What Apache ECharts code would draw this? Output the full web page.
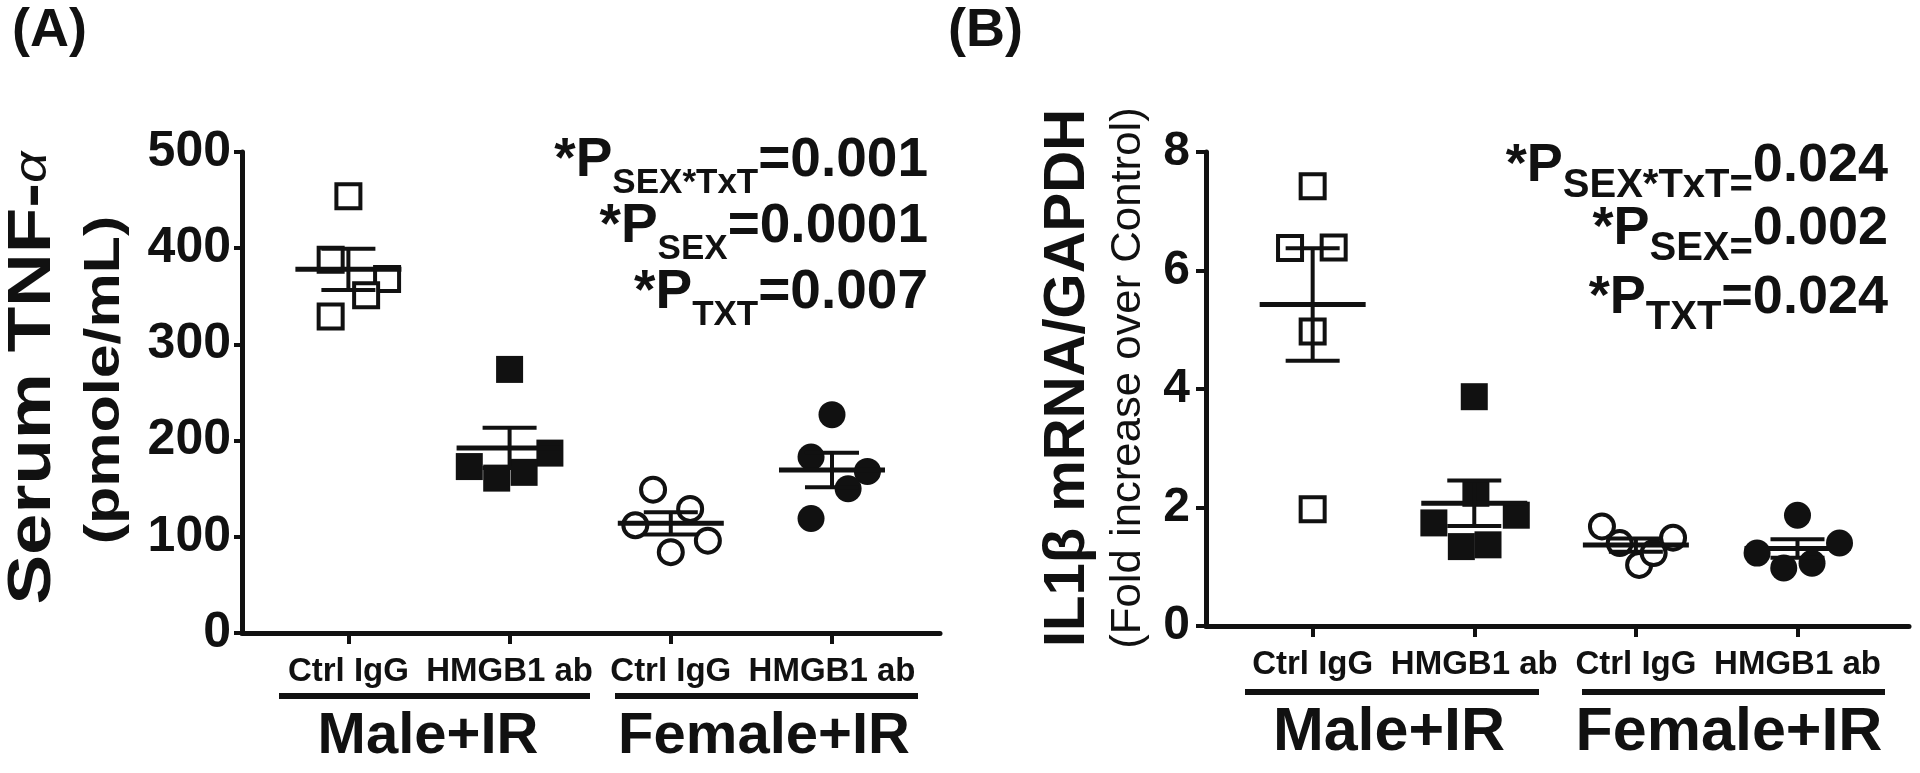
<!DOCTYPE html>
<html>
<head>
<meta charset="utf-8">
<title>TNF-α and IL1β</title>
<script src="https://cdn.jsdelivr.net/npm/echarts@6/dist/echarts.min.js"></script>
<style>
  html, body { margin: 0; padding: 0; background: #fff; }
  #chart { width: 1920px; height: 773px; }
</style>
</head>
<body>
<div id="chart"></div>
<script>
// ---- data ----
const groups = ['Ctrl IgG', 'HMGB1 ab', 'Ctrl IgG', 'HMGB1 ab'];
const sexes = ['Male+IR', 'Female+IR'];
const tnfTicks = [0, 100, 200, 300, 400, 500];
const ilTicks = [0, 2, 4, 6, 8];

// (A) serum TNF-α, pmole/mL
const tnfMaleCtrl = [454, 388, 368, 351, 329];
const tnfMaleAb = [274, 187, 173, 167, 161];
const tnfFemaleCtrl = [149, 129, 112, 96, 84];
const tnfFemaleAb = [227, 183, 168, 150, 119];

// (B) IL1β mRNA/GAPDH, fold increase over control
const ilMaleCtrl = [7.42, 6.38, 6.39, 4.97, 1.97];
const ilMaleAb = [3.87, 2.24, 1.87, 1.74, 1.37, 1.34];
const ilFemaleCtrl = [1.68, 1.40, 1.03, 1.23, 1.49];
const ilFemaleAb = [1.87, 1.23, 1.40, 0.98, 1.06];

// p values: [subscript, value]
const pA = [['SEX*TxT', '0.001'], ['SEX', '0.0001'], ['TXT', '0.007']];
const pB = [['SEX*TxT', '0.024'], ['SEX', '0.002'], ['TXT', '0.024']];

// ---- layout ----
// horizontal spread of dots inside a column (fraction of column width)
const spreadA = [
  [0, -0.11, 0.24, 0.11, -0.11],
  [0, 0.25, -0.25, 0.09, -0.08],
  [-0.11, 0.12, -0.22, 0.23, 0],
  [0, -0.13, 0.22, 0.1, -0.13]
];
const spreadB = [
  [0, -0.14, 0.13, 0, 0],
  [0, 0.01, 0.26, -0.25, 0.085, -0.08],
  [-0.21, -0.1, 0.02, 0.11, 0.23],
  [0, -0.25, 0.26, -0.085, 0.09]
];

const INK = '#111';
const FONT = '"Liberation Sans", Arial, sans-serif';

function meanSem(v) {
  const n = v.length;
  const m = v.reduce((a, b) => a + b, 0) / n;
  const sd = Math.sqrt(v.reduce((a, b) => a + (b - m) * (b - m), 0) / (n - 1));
  return [m, sd / Math.sqrt(n)];
}

function dots(vals, col, spread, axis, symbol, filled) {
  return {
    type: 'scatter',
    xAxisIndex: axis, yAxisIndex: axis,
    symbol: symbol,
    symbolSize: filled ? 27 : 24,
    itemStyle: filled
      ? { color: INK, opacity: 1 }
      : { color: '#fff', borderColor: INK, borderWidth: 4, opacity: 1 },
    data: vals.map((v, i) => [col + spread[i], v]),
    z: 2,
    silent: true
  };
}

function bars(sets, axis) {
  return {
    type: 'custom',
    xAxisIndex: axis, yAxisIndex: axis,
    data: sets.map((v, i) => [i + 1].concat(meanSem(v))),
    z: 3,
    silent: true,
    renderItem: function (params, api) {
      const x = api.value(0), m = api.value(1), s = api.value(2);
      const c = api.coord([x, m]);
      const t = api.coord([x, m + s]);
      const b = api.coord([x, m - s]);
      const ls = { stroke: INK, lineWidth: 4 };
      return {
        type: 'group',
        children: [
          { type: 'line', shape: { x1: c[0] - 53, y1: c[1], x2: c[0] + 53, y2: c[1] }, style: { stroke: INK, lineWidth: 5 } },
          { type: 'line', shape: { x1: c[0], y1: t[1], x2: c[0], y2: b[1] }, style: ls },
          { type: 'line', shape: { x1: c[0] - 27, y1: t[1], x2: c[0] + 27, y2: t[1] }, style: ls },
          { type: 'line', shape: { x1: c[0] - 27, y1: b[1], x2: c[0] + 27, y2: b[1] }, style: ls }
        ]
      };
    }
  };
}

function xAxis(grid, max) {
  return {
    type: 'value', gridIndex: grid, min: 0.34, max: max,
    axisLine: { lineStyle: { color: INK, width: 5 } },
    axisTick: { customValues: [1, 2, 3, 4], length: 11, lineStyle: { color: INK, width: 4 } },
    axisLabel: {
      customValues: [1, 2, 3, 4],
      formatter: v => groups[Math.round(v) - 1],
      color: INK, fontFamily: FONT, fontWeight: 'bold', fontSize: 33, lineHeight: 33, margin: 22
    },
    splitLine: { show: false }
  };
}

function yAxis(grid, ticks, tickLen, margin, size) {
  return {
    type: 'value', gridIndex: grid,
    min: ticks[0], max: ticks[ticks.length - 1], interval: ticks[1] - ticks[0],
    axisLine: { show: true, lineStyle: { color: INK, width: 5 } },
    axisTick: { show: true, length: tickLen, lineStyle: { color: INK, width: 4 } },
    axisLabel: { color: INK, fontFamily: FONT, fontWeight: 'bold', fontSize: size, margin: margin },
    splitLine: { show: false }
  };
}

function pLine(x, y, sub, val, big, small, eqInSub) {
  const s = eqInSub ? sub + '=' : sub;
  const n = eqInSub ? val : '=' + val;
  const tok = (size, va) => ({ fontFamily: FONT, fontWeight: 'bold', fontSize: size, lineHeight: size, verticalAlign: va, fill: INK });
  return {
    type: 'text', x: x, y: y,
    style: {
      text: '{z| }{m|*P}{s|' + s + '}{m|' + n + '}',
      align: 'right', verticalAlign: 'top',
      rich: { m: tok(big, 'top'), s: tok(small, 'bottom'), z: { fontSize: 1, lineHeight: Math.round(big * 1.24) } }
    }
  };
}

function label(x, y, text, size, weight, extra) {
  return Object.assign({
    type: 'text', x: x, y: y,
    style: { text: text, fontFamily: FONT, fontWeight: weight, fontSize: size, fill: INK, align: 'center', verticalAlign: 'middle' }
  }, extra || {});
}

function corner(x, text) {
  return {
    type: 'text', x: x, y: 4,
    style: { text: text, fontFamily: FONT, fontWeight: 'bold', fontSize: 54, fill: INK, align: 'left', verticalAlign: 'top' }
  };
}

function rule(x1, x2, y) {
  return { type: 'rect', shape: { x: x1, y: y - 3, width: x2 - x1, height: 6 }, style: { fill: INK } };
}

const up = Math.PI / 2;
const graphics = [
  corner(12, '(A)'),
  corner(948, '(B)'),
  // axis titles
  {
    type: 'text', x: 33, y: 378, rotation: up, scaleX: 1.2,
    style: {
      text: 'Serum TNF-{a|α}', fontFamily: FONT, fontWeight: 'bold', fontSize: 62, fill: INK,
      align: 'center', verticalAlign: 'middle',
      rich: { a: { fontFamily: FONT, fontSize: 46, fontStyle: 'italic', fill: INK } }
    }
  },
  label(105, 380, '(pmole/mL)', 50, 'bold', { rotation: up, scaleX: 1.22 }),
  label(1068, 378, 'IL1β mRNA/GAPDH', 58, 'bold', { rotation: up }),
  label(1128, 378, '(Fold increase over Control)', 42, 'normal', { rotation: up, scaleX: 1.04 }),
  // group rules and names
  rule(279, 590, 696), rule(615, 918, 696),
  rule(1245, 1539, 692), rule(1582, 1885, 692),
  label(428, 737, sexes[0], 58, 'bold'), label(764, 737, sexes[1], 58, 'bold'),
  label(1389, 733, sexes[0], 61, 'bold'), label(1729, 733, sexes[1], 61, 'bold')
];
const yA = [133, 199, 265];
pA.forEach((p, i) => graphics.push(pLine(928, yA[i], p[0], p[1], 55, 35, false)));
const yB = [139, 202, 271];
pB.forEach((p, i) => graphics.push(pLine(1888, yB[i], p[0], p[1], 54, 40, i < 2)));

const chart = echarts.init(document.getElementById('chart'));
chart.setOption({
  animation: false,
  backgroundColor: '#fff',
  grid: [
    { left: 242, top: 152, width: 698, height: 481 },
    { left: 1206, top: 152, width: 703, height: 474 }
  ],
  xAxis: [xAxis(0, 4.67), xAxis(1, 4.69)],
  yAxis: [yAxis(0, tnfTicks, 8, 11, 50), yAxis(1, ilTicks, 10, 16, 48)],
  series: [
    dots(tnfMaleCtrl, 1, spreadA[0], 0, 'rect', false),
    dots(tnfMaleAb, 2, spreadA[1], 0, 'rect', true),
    dots(tnfFemaleCtrl, 3, spreadA[2], 0, 'circle', false),
    dots(tnfFemaleAb, 4, spreadA[3], 0, 'circle', true),
    bars([tnfMaleCtrl, tnfMaleAb, tnfFemaleCtrl, tnfFemaleAb], 0),
    dots(ilMaleCtrl, 1, spreadB[0], 1, 'rect', false),
    dots(ilMaleAb, 2, spreadB[1], 1, 'rect', true),
    dots(ilFemaleCtrl, 3, spreadB[2], 1, 'circle', false),
    dots(ilFemaleAb, 4, spreadB[3], 1, 'circle', true),
    bars([ilMaleCtrl, ilMaleAb, ilFemaleCtrl, ilFemaleAb], 1)
  ],
  graphic: graphics
});
</script>
</body>
</html>
